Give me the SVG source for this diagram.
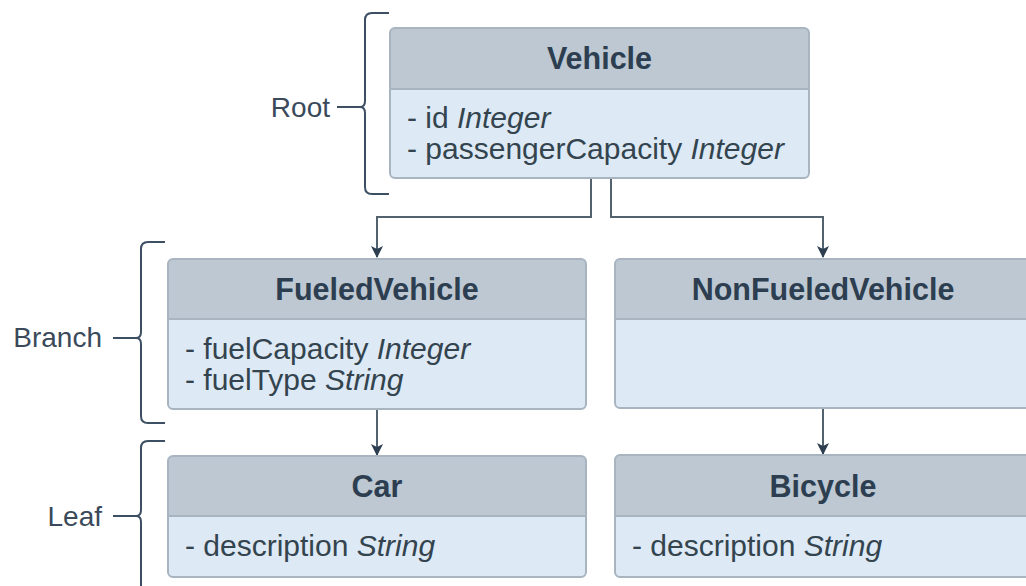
<svg xmlns="http://www.w3.org/2000/svg" width="1026" height="586" viewBox="0 0 1026 586">
<style>
text{font-family:"Liberation Sans",Arial,sans-serif;fill:#2c3e50}
.hd{fill:#bdc8d3}
.bd{fill:#dde9f4}
.frame{fill:none;stroke:#a8b4c0;stroke-width:2}
.div{stroke:#a8b4c0;stroke-width:2}
.title{font-size:30.5px;font-weight:bold;text-anchor:middle}
.attr{font-size:30px;fill:#33444f}
.attr tspan.t{font-style:italic}
.lbl{font-size:28px;text-anchor:end;fill:#3a4a5a}
.brace{fill:none;stroke:#3d4f62;stroke-width:2}
.conn{fill:none;stroke:#52626f;stroke-width:2}
</style>
<defs>
<marker id="arr" markerWidth="12" markerHeight="14" refX="11" refY="7" orient="auto" markerUnits="userSpaceOnUse">
<path d="M0,1 L12,7 L0,13 L3,7 Z" fill="#2c3e50"/>
</marker>
</defs>
<rect width="1026" height="586" fill="#ffffff"/>

<g id="levels">
<g id="level-root">
<text class="lbl" x="330" y="117">Root</text>
<path class="brace" d="M337,107 H360 Q365,107 365,101 V20 Q365,13 372,13 H389 M360,107 Q365,107 365,113 V187 Q365,194 372,194 H389"/>
</g>
<g id="level-branch">
<text class="lbl" x="102" y="347">Branch</text>
<path class="brace" d="M113,338 H136 Q141,338 141,332 V249 Q141,242 148,242 H165 M136,338 Q141,338 141,344 V416 Q141,423 148,423 H165"/>
</g>
<g id="level-leaf">
<text class="lbl" x="102" y="526">Leaf</text>
<path class="brace" d="M113,516 H136 Q141,516 141,510 V448 Q141,441 148,441 H165 M136,516 Q141,516 141,522 V600"/>
</g>
</g>

<g id="connectors">
<path class="conn" d="M591,179 V217 H377 V257" marker-end="url(#arr)"/>
<path class="conn" d="M611,179 V217 H823 V257" marker-end="url(#arr)"/>
<path class="conn" d="M377,410 V455" marker-end="url(#arr)"/>
<path class="conn" d="M823,409 V454" marker-end="url(#arr)"/>
</g>

<g id="node-vehicle">
<path class="hd" d="M390,89 V33 Q390,28 395,28 H804 Q809,28 809,33 V89 Z"/>
<path class="bd" d="M390,89 H809 V173 Q809,178 804,178 H395 Q390,178 390,173 Z"/>
<line class="div" x1="390" y1="89" x2="809" y2="89"/>
<rect class="frame" x="390" y="28" width="419" height="150" rx="5"/>
<text class="title" x="599.5" y="69">Vehicle</text>
<text class="attr" x="407" y="128">- id <tspan class="t">Integer</tspan></text>
<text class="attr" x="407" y="159">- passengerCapacity <tspan class="t">Integer</tspan></text>
</g>

<g id="node-fueled">
<path class="hd" d="M168,319 V264 Q168,259 173,259 H581 Q586,259 586,264 V319 Z"/>
<path class="bd" d="M168,319 H586 V404 Q586,409 581,409 H173 Q168,409 168,404 Z"/>
<line class="div" x1="168" y1="319" x2="586" y2="319"/>
<rect class="frame" x="168" y="259" width="418" height="150" rx="5"/>
<text class="title" x="377" y="300">FueledVehicle</text>
<text class="attr" x="185" y="359">- fuelCapacity <tspan class="t">Integer</tspan></text>
<text class="attr" x="185" y="390">- fuelType <tspan class="t">String</tspan></text>
</g>

<g id="node-nonfueled">
<path class="hd" d="M615,319 V264 Q615,259 620,259 H1027 Q1032,259 1032,264 V319 Z"/>
<path class="bd" d="M615,319 H1032 V403 Q1032,408 1027,408 H620 Q615,408 615,403 Z"/>
<line class="div" x1="615" y1="319" x2="1032" y2="319"/>
<rect class="frame" x="615" y="259" width="417" height="149" rx="5"/>
<text class="title" x="823" y="300">NonFueledVehicle</text>
</g>

<g id="node-car">
<path class="hd" d="M168,516 V461 Q168,456 173,456 H581 Q586,456 586,461 V516 Z"/>
<path class="bd" d="M168,516 H586 V572 Q586,577 581,577 H173 Q168,577 168,572 Z"/>
<line class="div" x1="168" y1="516" x2="586" y2="516"/>
<rect class="frame" x="168" y="456" width="418" height="121" rx="5"/>
<text class="title" x="377" y="497">Car</text>
<text class="attr" x="185" y="556">- description <tspan class="t">String</tspan></text>
</g>

<g id="node-bicycle">
<path class="hd" d="M615,516 V460 Q615,455 620,455 H1027 Q1032,455 1032,460 V516 Z"/>
<path class="bd" d="M615,516 H1032 V572 Q1032,577 1027,577 H620 Q615,577 615,572 Z"/>
<line class="div" x1="615" y1="516" x2="1032" y2="516"/>
<rect class="frame" x="615" y="455" width="417" height="122" rx="5"/>
<text class="title" x="823" y="497">Bicycle</text>
<text class="attr" x="632" y="556">- description <tspan class="t">String</tspan></text>
</g>
</svg>
